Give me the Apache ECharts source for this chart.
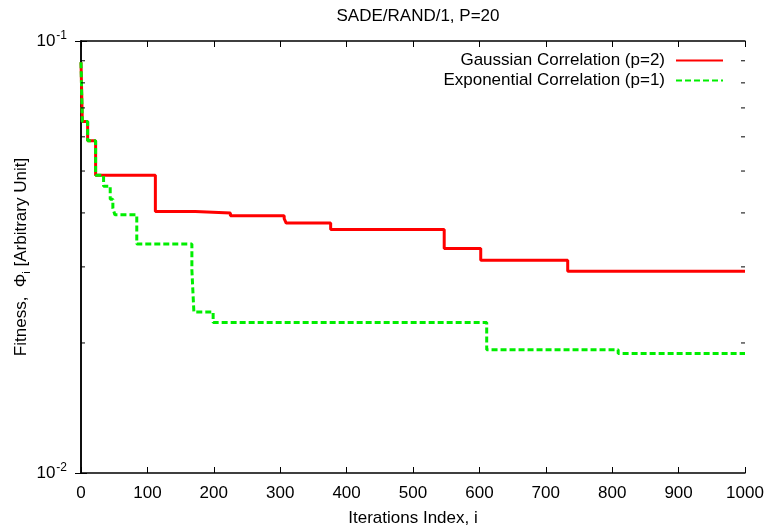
<!DOCTYPE html>
<html>
<head>
<meta charset="utf-8">
<script src="https://cdn.jsdelivr.net/npm/echarts@6/dist/echarts.min.js"></script>
<style>html,body{margin:0;padding:0;background:#fff;}#c{width:769px;height:530px;}</style>
</head>
<body>
<div id="c"></div>
<script>
// ---- data ----
const titleText = 'SADE/RAND/1, P=20';
const seriesNames = ['Gaussian Correlation (p=2)', 'Exponential Correlation (p=1)'];
const xTicks = [0, 100, 200, 300, 400, 500, 600, 700, 800, 900, 1000];
const yMajorTicks = [0.01, 0.1];
const yMinorTicks = [0.02, 0.03, 0.04, 0.05, 0.06, 0.07, 0.08, 0.09];

const gaussIter = [0, 2, 10, 22, 112, 172, 225, 306, 309, 376, 547, 602, 733, 1000];
const gaussVal  = [0.0893, 0.0651, 0.0588, 0.0489, 0.0403, 0.0400, 0.0394, 0.0388, 0.0379, 0.0366, 0.0331, 0.0311, 0.0293, 0.0293];

const expIter = [0, 2, 10, 22, 34, 44, 48, 51, 84, 167, 170, 199, 611, 809, 1000];
const expVal  = [0.0893, 0.0651, 0.0588, 0.0489, 0.0461, 0.0430, 0.0410, 0.0396, 0.0339, 0.0295, 0.0236, 0.0223, 0.0193, 0.0189, 0.0189];

// ---- chart ----
const FONT = '"Liberation Sans", Arial, Helvetica, sans-serif';
const FS = 17;
const pairs = (xs, ys) => xs.map((x, i) => [x, ys[i]]);
const xMin = xTicks[0], xMax = xTicks[xTicks.length - 1];
const minorData = [];
yMinorTicks.forEach(v => { minorData.push([xMin, v, 1]); minorData.push([xMax, v, -1]); });

const chart = echarts.init(document.getElementById('c'), null, {renderer: 'canvas'});
const axisLine = {show: true, lineStyle: {color: '#000', width: 1.5}};
chart.setOption({
  animation: false,
  backgroundColor: '#fff',
  textStyle: {fontFamily: FONT},
  title: {
    text: titleText, left: 413, top: 3, textAlign: 'center',
    textStyle: {fontFamily: FONT, fontSize: FS, fontWeight: 'normal', color: '#000'}
  },
  grid: {left: 81, right: 24, top: 41, bottom: 57, containLabel: false, outerBoundsMode: 'none'},
  legend: {
    data: seriesNames, orient: 'vertical', align: 'right',
    right: 40, top: 47, itemWidth: 47, itemHeight: 14, itemGap: 3,
    itemStyle: {color: 'rgba(0,0,0,0)', borderColor: 'rgba(0,0,0,0)', borderWidth: 0},
    textStyle: {fontFamily: FONT, fontSize: FS, color: '#000', lineHeight: 16, padding: [0, 6, 0, 0]}
  },
  xAxis: [{
    type: 'value', min: xMin, max: xMax, interval: 100,
    name: 'Iterations Index, i', nameLocation: 'middle', nameGap: 37, nameMoveOverlap: false,
    nameTextStyle: {fontFamily: FONT, fontSize: FS, color: '#000'},
    axisLine: axisLine,
    axisTick: {show: true, inside: true, length: 6, lineStyle: {color: '#000', width: 1}},
    axisLabel: {fontFamily: FONT, fontSize: FS, color: '#000', margin: 12, formatter: v => String(v)},
    splitLine: {show: false}
  }, {
    type: 'value', position: 'top', min: xMin, max: xMax, interval: 100,
    axisLine: axisLine,
    axisTick: {show: true, inside: true, length: 6, lineStyle: {color: '#000', width: 1}},
    axisLabel: {show: false}, splitLine: {show: false}
  }],
  yAxis: [{
    type: 'log', logBase: 10, min: yMajorTicks[0], max: yMajorTicks[1],
    name: 'Fitness,  \u03A6{sub|i} [Arbitrary Unit]', nameLocation: 'middle', nameGap: 49, nameRotate: 90,
    nameMoveOverlap: false,
    nameTextStyle: {fontFamily: FONT, fontSize: FS, color: '#000',
      rich: {sub: {fontFamily: FONT, fontSize: 11, color: '#000', padding: [11, 0, 0, 0]}}},
    axisLine: axisLine,
    axisTick: {show: true, inside: true, length: 6},
    axisLabel: {
      margin: 14, color: '#000',
      formatter: v => '{b|10}{s|' + Math.round(Math.log10(v)) + '}',
      rich: {
        b: {fontFamily: FONT, fontSize: FS, color: '#000'},
        s: {fontFamily: FONT, fontSize: 12, color: '#000', padding: [0, 0, 11, 1]}
      }
    },
    splitLine: {show: false}
  }, {
    type: 'log', logBase: 10, position: 'right', min: yMajorTicks[0], max: yMajorTicks[1],
    axisLine: axisLine,
    axisTick: {show: true, inside: true, length: 6},
    axisLabel: {show: false}, splitLine: {show: false}
  }],
  series: [{
    name: seriesNames[0], type: 'line', step: 'end', symbol: 'none',
    data: pairs(gaussIter, gaussVal),
    lineStyle: {color: '#ff0000', width: 3}, itemStyle: {color: '#ff0000'}, z: 3
  }, {
    name: seriesNames[1], type: 'line', step: 'end', symbol: 'none',
    data: pairs(expIter, expVal),
    lineStyle: {color: '#00ee00', width: 3, type: [6, 3]}, itemStyle: {color: '#00ee00'}, z: 4
  }, {
    type: 'custom', silent: true, data: minorData, z: 5,
    renderItem: (params, api) => {
      const p = api.coord([api.value(0), api.value(1)]);
      const d = api.value(2);
      return {type: 'line', shape: {x1: p[0], y1: p[1], x2: p[0] + d * 4, y2: p[1]},
              style: {stroke: '#000', lineWidth: 1}};
    }
  }]
});
</script>
</body>
</html>
